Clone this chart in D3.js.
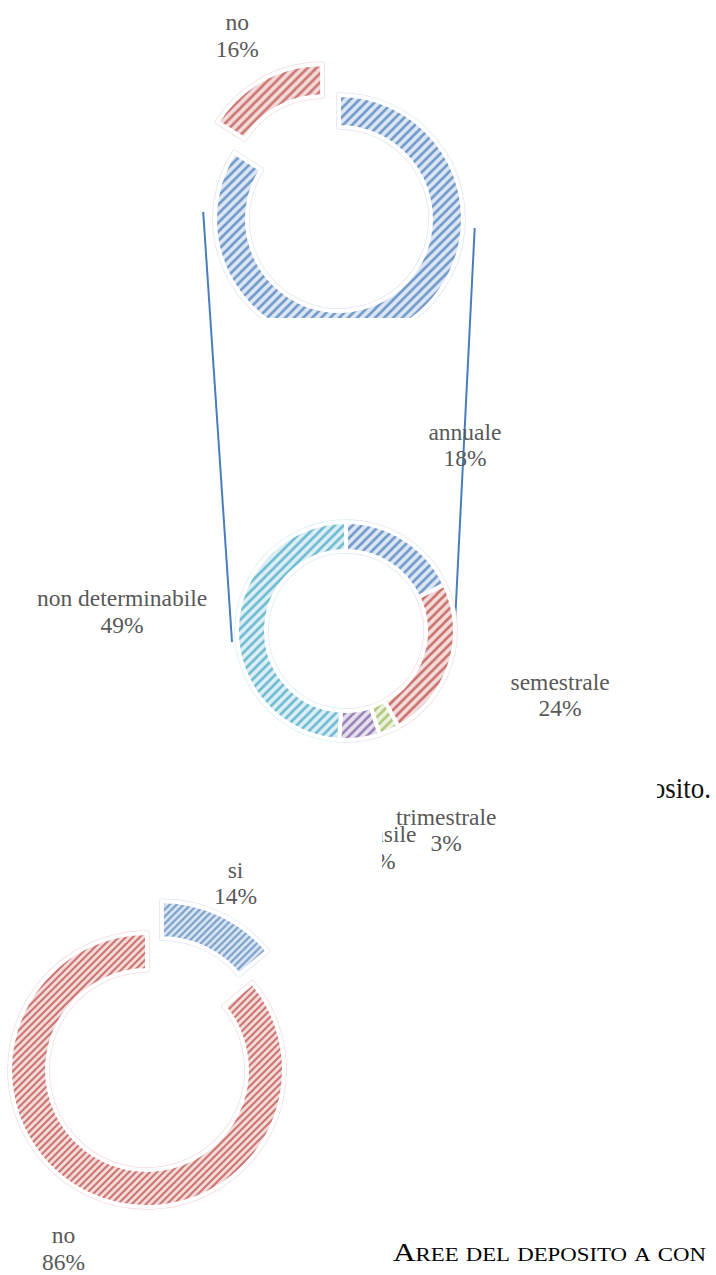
<!DOCTYPE html>
<html>
<head>
<meta charset="utf-8">
<script src="https://cdn.jsdelivr.net/npm/d3@7"></script>
<style>
  body { margin: 0; background: #fff; }
  svg { display: block; }
</style>
</head>
<body>
<svg id="page" width="716" height="1275"></svg>
<script>
// Upper ring: si / no
const topCategories = ["si", "no"];
const topValues = [84, 16];

// Frequency ring
const freqCategories = ["annuale", "semestrale", "trimestrale", "mensile", "non determinabile"];
const freqValues = [18, 24, 3, 6, 49];

// Lower ring: si / no
const lowCategories = ["si", "no"];
const lowValues = [14, 86];

// Office-style hatched fills
const palette = {
  blue:   { dark: "#4f81bd", light: "#dce6f2", edge: "#dde6f3" },
  red:    { dark: "#c0504d", light: "#f2dcdb", edge: "#f3dcdb" },
  green:  { dark: "#9bbb59", light: "#ebf1de", edge: "#e8f0da" },
  purple: { dark: "#8064a2", light: "#e6e0ec", edge: "#e7e1ee" },
  cyan:   { dark: "#4bacc6", light: "#dbeef4", edge: "#d9eef5" }
};

const svg = d3.select("#page");
svg.append("rect").attr("width", 716).attr("height", 1275).attr("fill", "#fff");
const defs = svg.append("defs");

function hatch(name, col, p) {
  const id = "hatch-" + name + "-" + String(p).replace(".", "_");
  if (!defs.select("#" + id).empty()) return id;
  const pat = defs.append("pattern")
    .attr("id", id).attr("patternUnits", "userSpaceOnUse")
    .attr("width", p).attr("height", p);
  pat.append("rect").attr("width", p).attr("height", p).attr("fill", col.light);
  const g = pat.append("g").attr("stroke", col.dark).attr("stroke-width", p * 0.3)
    .attr("stroke-opacity", 0.72).attr("stroke-linecap", "square");
  g.append("line").attr("x1", 0).attr("y1", p).attr("x2", p).attr("y2", 0);
  g.append("line").attr("x1", -p / 2).attr("y1", p / 2).attr("x2", p / 2).attr("y2", -p / 2);
  g.append("line").attr("x1", p / 2).attr("y1", p * 1.5).attr("x2", p * 1.5).attr("y2", p / 2);
  return id;
}

const labelFont = "'Liberation Serif', 'Times New Roman', serif";

function drawRing(parent, cfg) {
  const pie = d3.pie().sort(null).value(d => d.value).startAngle(0).endAngle(2 * Math.PI);
  const arcs = pie(cfg.categories.map((c, i) => ({ name: c, value: cfg.values[i], color: cfg.colors[i] })));
  const arc = d3.arc().innerRadius(cfg.inner).outerRadius(cfg.outer);
  const g = parent.append("g").attr("transform", `translate(${cfg.cx},${cfg.cy})`);

  const offset = d => {
    if (!cfg.explode.includes(d.data.name)) return [0, 0];
    const m = (d.startAngle + d.endAngle) / 2;
    return [Math.sin(m) * cfg.explodeDist, -Math.cos(m) * cfg.explodeDist];
  };

  // faint rim around every slice
  g.selectAll("path.rim").data(arcs).join("path").attr("class", "rim")
    .attr("transform", d => `translate(${offset(d)})`)
    .attr("d", arc).attr("fill", "none")
    .attr("stroke", d => palette[d.data.color].edge).attr("stroke-width", 5.5)
    .attr("stroke-linejoin", "round");

  g.selectAll("path.slice").data(arcs).join("path").attr("class", "slice")
    .attr("transform", d => `translate(${offset(d)})`)
    .attr("d", arc)
    .attr("fill", d => `url(#${hatch(d.data.color, palette[d.data.color], cfg.hatch)})`)
    .attr("stroke", "#fff").attr("stroke-width", 4).attr("stroke-linejoin", "round");

  const total = d3.sum(cfg.values);
  arcs.forEach(d => {
    const m = (d.startAngle + d.endAngle) / 2;
    const r = cfg.labelR + (cfg.explode.includes(d.data.name) ? 12 : 0);
    const nudge = (cfg.nudge && cfg.nudge[d.data.name]) || [0, 0];
    const x = Math.sin(m) * r + nudge[0];
    const y = -Math.cos(m) * r + nudge[1];
    const t = g.append("g").attr("transform", `translate(${x},${y})`)
      .attr("font-family", labelFont).attr("font-size", 23.5).attr("fill", "#595959")
      .attr("text-anchor", "middle");
    t.append("text").attr("y", -4).text(d.data.name);
    t.append("text").attr("y", 22.5).text(Math.round(d.data.value / total * 100) + "%");
  });
  return g;
}

// Upper ring, cut along its lower edge
defs.append("clipPath").attr("id", "topCut")
  .append("rect").attr("x", 0).attr("y", 0).attr("width", 716).attr("height", 318);
const topCfg = {
  categories: topCategories, values: topValues, colors: ["blue", "red"],
  cx: 339, cy: 219, outer: 124, inner: 92, explode: ["no"], explodeDist: 35,
  labelR: 199, hatch: 9
};
drawRing(svg.append("g").attr("clip-path", "url(#topCut)"), topCfg);

// Frequency ring
const midCfg = {
  categories: freqCategories, values: freqValues,
  colors: ["blue", "red", "green", "purple", "cyan"],
  cx: 346, cy: 631, outer: 109, inner: 80, explode: [], explodeDist: 0,
  labelR: 222, hatch: 9,
  nudge: { "semestrale": [3, -6], "trimestrale": [12, -6], "mensile": [6, -5], "non determinabile": [-2, -14] }
};

// Connector lines between the two upper rings
const polar = (c, deg, r) => [c.cx + r * Math.sin(deg * Math.PI / 180), c.cy - r * Math.cos(deg * Math.PI / 180)];
const connectors = [
  [polar(topCfg, 273, 136), polar(midCfg, 264.5, 114.5)],
  [polar(topCfg, 93.8, 136), polar(midCfg, 95.8, 108.6)]
];
svg.selectAll("line.conn").data(connectors).join("line").attr("class", "conn")
  .attr("x1", d => d[0][0]).attr("y1", d => d[0][1])
  .attr("x2", d => d[1][0]).attr("y2", d => d[1][1])
  .attr("stroke", "#4a7ebb").attr("stroke-width", 2);

drawRing(svg, midCfg);

// Body text fragment at the right margin
defs.append("clipPath").attr("id", "bodyCut")
  .append("rect").attr("x", 657).attr("y", 760).attr("width", 60).attr("height", 60);
svg.append("g").attr("clip-path", "url(#bodyCut)")
  .append("text").attr("transform", "translate(711,798) scale(0.9,1)")
  .attr("text-anchor", "end").attr("font-family", labelFont).attr("font-size", 30)
  .attr("fill", "#111").text("deposito.");

// Lower panel sits over the frequency chart
svg.append("rect").attr("x", 0).attr("y", 800).attr("width", 382).attr("height", 475).attr("fill", "#fff");

const lowCfg = {
  categories: lowCategories, values: lowValues, colors: ["blue", "red"],
  cx: 147, cy: 1070, outer: 137, inner: 100, explode: ["si"], explodeDist: 35,
  labelR: 196, hatch: 7
};
drawRing(svg, lowCfg);

// Caption in small capitals
const captionWords = ["Aree", "del", "deposito", "a", "con"];
const cap = svg.append("text").attr("transform", "translate(393,1261) scale(1.2,1)")
  .attr("font-family", labelFont).attr("fill", "#000");
captionWords.forEach((w, i) => {
  const lead = i === 0 ? w[0] : "";
  const rest = (i === 0 ? w.slice(1) : w).toUpperCase();
  if (i > 0) cap.append("tspan").attr("font-size", 24).text(" ");
  if (lead) cap.append("tspan").attr("font-size", 26).text(lead);
  cap.append("tspan").attr("font-size", 19).text(rest);
});
</script>
</body>
</html>
